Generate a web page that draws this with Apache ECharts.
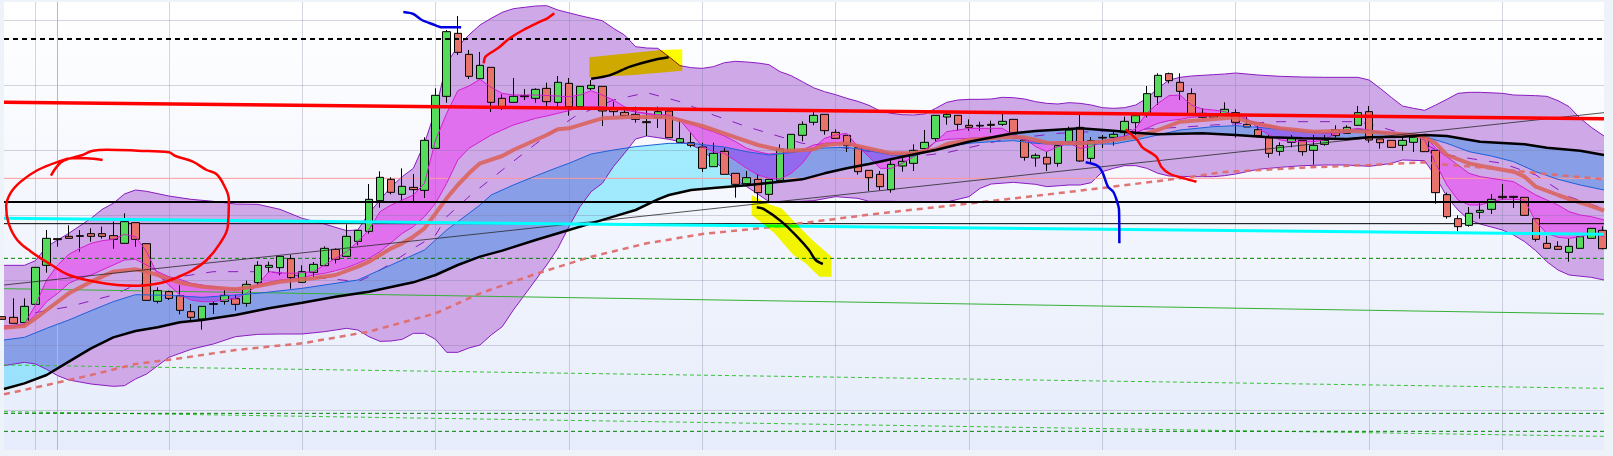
<!DOCTYPE html>
<html><head><meta charset="utf-8">
<script src="https://cdn.jsdelivr.net/npm/echarts@6/dist/echarts.min.js"></script>
<style>html,body{margin:0;padding:0;background:#eef3fa}#c{width:1613px;height:456px}</style>
</head><body><div id="c"></div>
<script>
// Price scale of this picture is read as chart units, growing downward (inverted axis).
const FIRST_BAR = 0.1656, LAST_BAR = 144.14;
const opens = [950,952,968,913,796,716,709,707,701,701,707,730,668,731,904,875,887,935,957,911,904,896,910,848,802,803,776,847,817,797,748,769,724,694,602,538,583,562,571,445,289,100,163,236,202,295,307,287,295,
265,307,250,320,266,259,325,337,343,365,352,333,427,428,441,500,454,520,551,538,583,541,456,406,367,343,397,406,443,511,523,569,498,490,446,416,351,346,376,376,373,373,358,420,474,472,490,425,382,
475,412,412,398,368,342,290,221,247,281,352,352,345,338,373,389,413,454,427,421,451,433,389,400,376,335,417,421,436,427,412,451,584,656,676,637,628,589,589,592,656,730,739,757,745,715,691];
const closes = [958,970,919,802,715,719,715,709,709,709,718,665,718,901,872,895,931,952,919,913,886,913,853,796,796,769,833,815,793,745,778,709,691,598,532,577,559,569,421,286,95,157,229,196,307,320,289,290,268,
305,247,320,259,256,333,335,347,358,368,335,413,416,436,505,460,523,553,533,578,538,447,403,373,346,392,415,437,515,533,560,493,484,451,427,346,343,373,382,378,376,364,402,472,466,492,437,390,483,
422,414,403,364,347,281,226,242,274,342,340,347,328,367,381,407,460,437,416,455,436,421,407,382,338,420,428,442,421,412,455,578,650,680,640,631,598,593,592,646,718,745,748,739,710,685,746];
const highs = [950,895,895,802,690,716,676,690,685,680,665,640,668,731,862,872,856,912,919,903,870,885,842,784,785,769,764,796,786,739,745,673,691,552,514,532,505,522,412,265,90,48,150,156,202,283,234,267,265,
248,228,234,259,240,259,305,325,320,330,320,330,358,397,428,428,444,520,513,522,538,433,403,364,327,343,388,406,443,511,513,478,460,433,390,346,340,346,358,365,362,340,358,420,460,456,430,380,345,
411,405,390,350,347,258,220,218,220,265,325,347,307,328,350,378,405,427,405,421,405,405,376,376,318,318,417,421,410,405,412,451,578,646,621,610,582,552,589,592,656,708,724,716,710,685,679];
const lows = [958,970,968,913,818,740,716,755,725,716,746,730,740,901,910,900,943,964,989,942,914,932,920,856,818,826,866,847,833,797,790,769,736,701,623,583,603,603,594,445,308,165,237,236,336,330,307,300,308,
320,320,347,320,270,378,348,347,368,408,384,413,427,442,516,500,523,593,551,605,605,541,456,424,376,404,415,456,524,573,571,578,515,513,446,425,374,392,392,392,398,378,408,482,500,513,500,430,485,
487,444,437,418,405,352,315,250,300,345,352,352,345,413,381,413,473,467,442,467,494,437,413,400,376,428,446,442,452,456,455,611,656,694,680,656,642,600,624,646,725,745,748,785,745,715,748];

const outerUpper = [[FIRST_BAR,796],[2,796],[3,782],[4,740],[6,700],[8,655],[9,628],[10,610],[11,582],[12,570],[13,574],[15,588],[17,598],[19,604],[21,612],[23,613],[25,628],[27,655],[29,672],[31,692],[32,690],[33,640],[34,600],[35,560],[36,530],[37,505],[38,430],[39,330],[40,190],[41,140],[42,105],[43,75],[44,55],[45,37],[46,26],[48,18],[49,17],[50,30],[52,47],[54,62],[55,85],[56,105],[57,140],[58,144],[59,145],[60,170],[61,197],[62,203],[63,205],[64,200],[65,188],[66,184],[67,186],[68,189],[69,194],[70,215],[71,227],[72,245],[73,263],[74,275],[75,284],[76,295],[77,304],[78,316],[79,333],[80,340],[81,344],[82,345],[83,342],[84,325],[85,307],[86,300],[87,298],[88,298],[89,297],[90,292],[91,293],[92,297],[93,305],[94,310],[95,312],[96,308],[97,310],[98,315],[99,323],[100,325],[101,323],[102,315],[103,295],[104,265],[105,240],[106,232],[107,228],[108,226],[109,224],[110,222],[111,219],[113,225],[115,229],[117,231],[119,232],[122,232],[123,240],[124,265],[125,292],[126,318],[127,325],[128,331],[129,315],[130,298],[131,280],[132,277],[133,277],[135,280],[136,285],[138,287],[139,289],[140,302],[141,320],[142,355],[143,382],[LAST_BAR,408]];
const outerLower = [[FIRST_BAR,1097],[2,1087],[3,1092],[4,1108],[5,1127],[6,1140],[8,1152],[10,1159],[11,1157],[12,1137],[13,1122],[14,1097],[15,1072],[17,1048],[19,1032],[21,1010],[23,1003],[25,1002],[27,1002],[29,995],[31,985],[32,990],[33,1010],[34,1024],[35,1023],[36,1018],[37,1000],[38,1000],[39,1018],[40,1057],[41,1057],[42,1044],[43,1035],[44,1005],[45,980],[46,930],[47,885],[48,840],[49,795],[50,745],[51,680],[52,620],[53,575],[54,550],[55,500],[56,460],[57,417],[58,408],[59,413],[60,418],[61,425],[62,435],[63,450],[64,480],[65,510],[66,540],[67,560],[68,582],[69,605],[70,608],[73,602],[75,590],[77,595],[78,604],[80,604],[82,606],[85,606],[87,590],[88,565],[89,552],[91,547],[93,553],[94,560],[96,555],[97,555],[98,548],[99,515],[100,505],[101,497],[102,497],[103,505],[104,520],[105,528],[107,530],[109,530],[110,527],[111,522],[113,508],[115,502],[117,497],[119,495],[121,495],[123,499],[124,495],[125,490],[126,480],[128,482],[129,530],[130,590],[131,630],[132,660],[133,672],[135,690],[136,705],[137,725],[138,752],[139,785],[140,810],[141,825],[143,832],[LAST_BAR,840]];
const fastLine = [[FIRST_BAR,978],[2,972],[3,915],[4,840],[5,795],[6,763],[7,745],[8,730],[9,722],[10,718],[11,703],[12,710],[13,755],[14,825],[15,855],[16,885],[17,900],[18,905],[19,905],[20,900],[21,895],[22,880],[23,855],[24,815],[25,818],[26,820],[27,818],[28,815],[29,795],[30,775],[31,755],[32,725],[33,690],[34,635],[35,615],[36,600],[37,585],[38,550],[39,420],[40,340],[41,272],[42,258],[43,238],[44,262],[45,280],[46,285],[48,285],[50,288],[51,290],[52,285],[53,272],[54,285],[55,300],[56,320],[57,335],[58,340],[59,345],[60,345],[61,360],[62,400],[63,440],[64,455],[65,460],[66,482],[67,505],[68,525],[69,535],[70,537],[71,520],[72,490],[73,445],[74,415],[75,405],[76,400],[77,440],[78,470],[79,505],[80,505],[81,490],[82,470],[83,455],[84,425],[85,395],[86,390],[87,385],[88,385],[90,385],[91,405],[92,415],[93,440],[94,455],[95,440],[96,430],[97,445],[98,440],[99,425],[100,420],[101,410],[102,385],[103,340],[104,310],[105,287],[106,285],[107,315],[108,327],[109,330],[110,335],[111,345],[112,355],[113,385],[114,405],[115,420],[116,425],[118,425],[119,420],[120,400],[121,390],[122,385],[123,390],[124,400],[125,400],[127,405],[128,420],[129,490],[130,555],[131,600],[132,615],[133,615],[134,605],[135,598],[136,598],[137,600],[138,665],[139,700],[140,712],[141,715],[142,710],[143,700],[LAST_BAR,710]];
const slowLine = [[FIRST_BAR,985],[2,975],[3,945],[4,905],[5,880],[6,850],[7,835],[8,825],[9,810],[10,795],[11,780],[12,778],[13,795],[14,815],[15,830],[16,838],[17,850],[18,855],[19,860],[20,865],[21,868],[22,865],[23,857],[24,848],[25,840],[26,838],[27,833],[28,825],[29,820],[30,812],[31,803],[32,790],[33,775],[34,755],[35,728],[36,700],[37,680],[38,650],[39,610],[40,550],[41,480],[42,445],[43,425],[44,405],[45,390],[46,375],[47,365],[48,355],[49,348],[50,340],[51,332],[52,322],[54,320],[56,330],[58,342],[60,347],[62,368],[63,385],[64,395],[65,408],[66,425],[67,445],[68,455],[69,462],[70,460],[71,455],[72,450],[73,435],[74,430],[75,428],[76,432],[77,440],[78,448],[79,455],[80,460],[81,462],[82,458],[83,450],[84,425],[85,418],[87,415],[89,410],[91,405],[92,420],[93,425],[94,428],[95,426],[96,424],[97,425],[98,425],[99,423],[100,415],[101,408],[102,398],[103,385],[104,370],[105,362],[106,358],[107,352],[110,345],[111,350],[113,370],[115,385],[117,393],[119,400],[121,398],[122,388],[123,392],[124,395],[126,400],[128,405],[129,445],[130,470],[131,495],[132,520],[133,530],[134,535],[135,540],[136,545],[137,565],[138,585],[139,600],[140,615],[141,635],[142,645],[143,650],[LAST_BAR,660]];
const salmonAvg = [[FIRST_BAR,983],[2,978],[3,955],[4,930],[6,880],[8,845],[10,815],[12,808],[13,815],[14,825],[16,848],[18,860],[21,868],[23,858],[25,845],[28,835],[30,825],[32,800],[33,785],[35,745],[36,730],[37,710],[38,685],[39,640],[40,595],[41,555],[42,520],[43,490],[45,468],[46,450],[47,435],[48,420],[49,405],[50,388],[51,385],[53,365],[54,355],[57,350],[60,352],[63,378],[66,412],[68,435],[70,450],[71,452],[73,448],[74,435],[76,430],[78,445],[80,460],[82,460],[84,448],[85,432],[87,420],[90,412],[92,412],[93,420],[94,428],[97,430],[99,425],[102,410],[104,390],[106,365],[108,360],[111,352],[112,365],[115,385],[118,395],[121,392],[123,395],[127,405],[128,412],[129,430],[130,465],[132,490],[133,497],[136,515],[137,530],[138,560],[140,585],[141,597],[143,618],[LAST_BAR,632]];
const blueAvg = [[FIRST_BAR,1020],[2,1012],[4,985],[6,960],[8,932],[10,905],[12,884],[15,886],[18,892],[21,885],[23,880],[27,865],[29,855],[32,840],[33,825],[35,795],[36,780],[38,750],[39,720],[40,690],[42,640],[43,615],[44,585],[46,555],[48,528],[50,502],[51,490],[53,462],[55,450],[57,440],[60,430],[62,430],[65,441],[67,455],[69,465],[71,458],[73,445],[76,442],[78,452],[80,465],[82,468],[84,445],[87,430],[89,425],[91,422],[93,430],[96,435],[97,432],[100,432],[102,420],[104,405],[106,390],[109,380],[111,377],[113,382],[115,388],[117,395],[119,398],[121,395],[122,388],[124,398],[126,400],[128,410],[130,430],[132,455],[134,468],[136,485],[138,515],[140,538],[142,555],[LAST_BAR,570]];
const blackAvg = [[FIRST_BAR,1167],[2,1150],[4,1125],[6,1085],[8,1045],[10,1012],[12,993],[14,982],[16,967],[18,960],[21,945],[24,925],[27,908],[30,890],[33,875],[37,847],[39,825],[41,795],[43,770],[45,752],[48,720],[51,690],[53,670],[55,650],[57,630],[59,598],[60,585],[62,570],[64,564],[67,556],[70,545],[72,538],[74,520],[76,505],[78,492],[81,470],[84,450],[87,425],[91,400],[93,393],[96,387],[97,385],[100,392],[102,398],[104,403],[108,400],[111,405],[114,412],[117,415],[121,417],[123,412],[126,410],[128,405],[130,408],[133,425],[137,433],[139,443],[142,452],[LAST_BAR,465]];
const dashedSalmon = [[FIRST_BAR,1183],[4,1155],[8,1125],[12,1092],[16,1075],[21,1050],[27,1030],[33,995],[39,940],[43,880],[48,822],[53,770],[58,730],[63,702],[69,682],[73,665],[79,640],[85,618],[91,595],[97,572],[106,535],[110,516],[117,503],[123,495],[128,487],[130,494],[134,505],[139,522],[LAST_BAR,538]];
const dashedPurple = [[3,938],[6,920],[10,885],[12,855],[15,835],[19,815],[24,815],[26,825],[30,838],[32,845],[33,830],[35,790],[37,745],[39,705],[40,650],[42,590],[45,510],[48,432],[51.5,350],[55,300],[58,278],[61,305],[64,345],[67,380],[70,410],[72,430],[75,440],[77,450],[82,470],[85,458],[90,420],[95,400],[106,382],[109,375],[115,365],[122,365],[123,372],[126,400],[130,465],[135,490],[138,525],[141,590],[144,625]];

const redLevel = [[FIRST_BAR,307],[LAST_BAR,356]];
const cyanLevel = [[FIRST_BAR,655],[LAST_BAR,703]];
const risingTrend = [[FIRST_BAR,855],[LAST_BAR,338]];
const greenTrend = [[FIRST_BAR,866],[LAST_BAR,942]];
const greenDash1 = [[FIRST_BAR,1095],[LAST_BAR,1165]];
const greenDash2 = [[FIRST_BAR,1235],[LAST_BAR,1309]];
const darkGreenLevels = [775,1240,1294];
const gridLevels = [62,256,451,646,841,1036,1232];
const gridBars = [3,15,27,39,51,63,75,87,99,111,123,135];
const blackDashLevel = 117, blackLevel = 606, thinBlackLevel = 671, pinkLevel = 535, cursorBar = 5;

const redCircle = [[4.39,527],[4.92,500],[5.54,482],[7.24,465],[8.17,452],[9.41,449],[12.2,452],[15,457],[15.6,468],[17.16,485],[18.4,510],[19.27,522],[19.95,555],[20.4,600],[20.3,680],[19.6,730],[18.4,780],[17.16,810],[15.76,832],[14.37,848],[12.2,857],[10.34,855],[8.48,846],[6,825],[4.45,795],[2.6,755],[1.36,720],[0.58,670],[0.36,620],[0.74,580],[1.67,545],[3.2,510],[5.07,485],[6.3,475],[7.55,475],[9.04,480]];
const blueTop = [[36.1,36],[37,42],[37.77,60],[38.7,72],[39.6,82],[41.3,82]];
const redUp = [[43.34,190],[43.5,170],[44.6,145],[45.67,115],[46.9,90],[48.4,65],[49.06,55],[49.68,40]];
const blackHigh = [[53,236],[54.64,226],[56.5,200],[58.36,182],[59.97,172]];
const blackLow = [[67.9,622],[68.58,628],[70.13,665],[71.68,715],[72.6,750],[73.2,780],[73.85,792]];
const blueDrop = [[97.5,487],[98.58,498],[99.05,520],[99.5,560],[99.97,575],[100.28,600],[100.5,630],[100.53,730]];
const redDrop = [[101.1,388],[102.14,420],[102.6,442],[103.85,470],[104.3,500],[105.1,522],[106.33,535],[107.47,545]];
const yellowHigh = [[52.84,172],[59.29,150],[61.2,148],[61.2,212],[56.8,225],[52.84,232]];
const yellowLow = [[67.44,585],[68.9,612],[70.13,625],[71.7,680],[72.9,720],[74.63,770],[74.63,830],[73.54,830],[72.3,790],[71.2,765],[69.5,700],[68.6,675],[67.44,645]];

const bars = opens.map((o,i)=>[i,o,closes[i],highs[i],lows[i]]);

const CYAN_FILL='#a8f2ff', YELLOW_FILL='#ffff00';
function polygon(points, fill, z){
  return {type:'custom',coordinateSystem:'cartesian2d',z,silent:true,animation:false,
    encode:{x:0,y:1},data:points,clip:false,
    renderItem(params,api){
      if(params.dataIndex!==0) return null;
      return {type:'polygon',shape:{points:points.map(p=>api.coord(p))},style:{fill}};
    }};
}
const between=(a,b)=>a.concat(b.slice().reverse());
function line(data,color,width,z,extra){
  return Object.assign({type:'line',data,symbol:'none',silent:true,animation:false,z,
    lineStyle:{color,width}},extra||{});
}
const dash=(d,color,width,z,pat)=>line(d,color,width,z,{lineStyle:{color,width,type:pat||[5,5]}});
const flat=v=>[[FIRST_BAR,v],[LAST_BAR,v]];

const chart=echarts.init(document.getElementById('c'),null,{renderer:'canvas'});
chart.setOption({
  animation:false,backgroundColor:'transparent',
  grid:{left:4,top:2,width:1600,height:448,show:true,borderWidth:0,
    backgroundColor:new echarts.graphic.LinearGradient(0,0,0,1,[{offset:0,color:'#ffffff'},{offset:1,color:'#e6ecfb'}])},
  xAxis:{type:'value',min:FIRST_BAR,max:LAST_BAR,show:false,splitLine:{show:false}},
  yAxis:{type:'value',inverse:true,min:6,max:1350,show:false,splitLine:{show:false}},
  series:[
    polygon(between(outerUpper,outerLower),'#cfa8e8',2),
    polygon(between(fastLine,slowLine),'#e070ee',3),
    polygon(between(blueAvg,blackAvg),CYAN_FILL,4),
    {type:'line',data:[],z:5,silent:true,animation:false,symbol:'none',
      markLine:{silent:true,symbol:'none',animation:false,label:{show:false},
        lineStyle:{color:'rgba(115,120,150,0.3)',width:1,type:'solid'},
        data:gridLevels.map(v=>({yAxis:v})).concat(gridBars.map(b=>({xAxis:b})))}},
    line(outerUpper,'#8a1cc0',1,6),
    line(outerLower,'#8a1cc0',1,6),
    line(flat(pinkLevel),'#ff9a9a',1,6),
    dash(dashedPurple,'#8a1cc0',1,6,[10,12]),
    line(flat(thinBlackLevel),'#000000',1,6),
    line(greenTrend,'#35b035',1,6),
    dash(greenDash1,'#38c038',1,6,[4,3]),
    dash(greenDash2,'#38c038',1,6,[4,3]),
    ...darkGreenLevels.map(v=>dash(flat(v),'#008000',1,6,[4,3])),
    {type:'candlestick',z:7,silent:true,animation:false,barWidth:8,encode:{x:0,y:[1,2,3,4]},data:bars,
      itemStyle:{color:'#e8736c',color0:'#56dc5c',borderColor:'#000',borderColor0:'#000',borderWidth:1}},
    line(fastLine,'#d020d0',1,8),
    line(slowLine,'#d020d0',1,8),
    line(blueAvg,'#1f5fd8',1,8),
    line(salmonAvg,'rgba(217,100,94,0.9)',4,8),
    dash(dashedSalmon,'rgba(222,108,108,0.95)',2.5,8,[6,5]),
    line(risingTrend,'rgba(40,40,40,0.8)',1,8),
    line(blackAvg,'#000000',2.5,9),
    line(flat(blackLevel),'#000000',2,9),
    dash(flat(blackDashLevel),'#000000',2,9,[5,4]),
    line(redLevel,'#ff0000',3.5,10),
    line(cyanLevel,'#00ffff',3,10),
    {type:'line',data:[],z:10,silent:true,animation:false,symbol:'none',
      markLine:{silent:true,symbol:'none',animation:false,label:{show:false},
      lineStyle:{color:'#ff9a9a',width:1,type:'solid'},data:[{xAxis:cursorBar}]}},
    polygon(yellowHigh,YELLOW_FILL,11),
    polygon(yellowLow,YELLOW_FILL,11),
    line(redCircle,'#ff0000',2.5,12,{smooth:0.4}),
    line(blueTop,'#0000e0',2.5,12,{smooth:0.3}),
    line(redUp,'#ff0000',2.5,12,{smooth:0.3}),
    line(blackHigh,'#000000',2.5,12,{smooth:0.3}),
    line(blackLow,'#000000',2.5,12,{smooth:0.3}),
    line(blueDrop,'#0000e0',2.5,12,{smooth:0.3}),
    line(redDrop,'#ff0000',2.5,12,{smooth:0.3})
  ]
});
// The highlight and cyan ribbons tint what lies beneath them.
const zr=chart.getZr();
zr.storage.getDisplayList(true).forEach(el=>{
  if(el.style&&(el.style.fill===CYAN_FILL||el.style.fill===YELLOW_FILL)){
    el.style.blend='multiply';el.dirty();
  }
});
zr.refreshImmediately&&zr.refreshImmediately();
</script></body></html>
